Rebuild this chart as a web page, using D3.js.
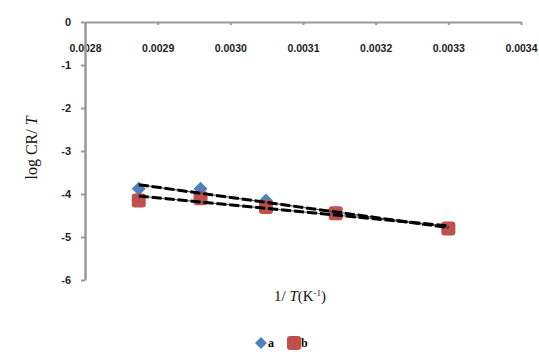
<!DOCTYPE html>
<html>
<head>
<meta charset="utf-8">
<script src="https://cdn.jsdelivr.net/npm/d3@7"></script>
<style>
  body { margin: 0; background: #fff; }
  svg { display: block; }
</style>
</head>
<body>
<div id="chart"></div>
<script>
// 1/T values (K^-1) and log CR/T for the two series
const invT = [0.002874, 0.002959, 0.003049, 0.003145, 0.0033];
const seriesA = [-3.88, -3.88, -4.15, -4.45, -4.80];
const seriesB = [-4.15, -4.10, -4.30, -4.45, -4.80];
const xTicks = [0.0028, 0.0029, 0.0030, 0.0031, 0.0032, 0.0033, 0.0034];
const yTicks = [0, -1, -2, -3, -4, -5, -6];

const width = 539, height = 352;

let svg = d3.select("#chart")
  .append("svg")
  .attr("width", width)
  .attr("height", height);

let x = d3.scaleLinear().domain([0.0028, 0.0034]).range([85, 521]);
let y = d3.scaleLinear().domain([0, -6]).range([22, 280]);

// least squares line through a series
function fit(xs, ys) {
  let mx = d3.mean(xs), my = d3.mean(ys);
  let num = d3.sum(xs, (v, i) => (v - mx) * (ys[i] - my));
  let den = d3.sum(xs, v => (v - mx) * (v - mx));
  let m = num / den;
  return v => my + m * (v - mx);
}

// square diamond, r = half diagonal
function diamondPath(r) {
  return "M0," + (-r) + "L" + r + ",0L0," + r + "L" + (-r) + ",0Z";
}

// x axis sits on the top (y = 0)
let xAxis = d3.axisBottom(x)
  .tickValues(xTicks)
  .tickFormat(d3.format(".4f"))
  .tickSize(3)
  .tickSizeOuter(0)
  .tickPadding(20);

let gx = svg.append("g")
  .attr("transform", "translate(0," + y(0) + ")")
  .call(xAxis);
gx.select(".domain").attr("stroke", "#999").attr("stroke-width", 2);
gx.selectAll(".tick line").attr("stroke", "#999").attr("stroke-width", 2);
gx.selectAll(".tick text")
  .attr("font-family", "Liberation Sans, Arial, sans-serif")
  .attr("font-weight", "bold")
  .attr("font-size", 10.5)
  .attr("fill", "#222");

let yAxis = d3.axisLeft(y)
  .tickValues(yTicks)
  .tickFormat(d3.format("d"))
  .tickSize(4)
  .tickSizeOuter(0)
  .tickPadding(10);

let gy = svg.append("g")
  .attr("transform", "translate(" + x(0.0028) + ",0)")
  .call(yAxis);
gy.select(".domain").attr("stroke", "#999").attr("stroke-width", 2.5);
gy.selectAll(".tick line").attr("stroke", "#999").attr("stroke-width", 2);
gy.selectAll(".tick text")
  .text(d => d === 0 ? "0" : "-" + Math.abs(d))
  .attr("font-family", "Liberation Sans, Arial, sans-serif")
  .attr("font-weight", "bold")
  .attr("font-size", 11)
  .attr("fill", "#222");

// markers
svg.append("g")
  .selectAll("path")
  .data(invT)
  .enter()
  .append("path")
  .attr("d", diamondPath(7))
  .attr("transform", (d, i) => "translate(" + x(d) + "," + y(seriesA[i]) + ")")
  .attr("fill", "#4F81BD");

svg.append("g")
  .selectAll("rect")
  .data(invT)
  .enter()
  .append("rect")
  .attr("x", d => x(d) - 7)
  .attr("y", (d, i) => y(seriesB[i]) - 7)
  .attr("width", 14)
  .attr("height", 14)
  .attr("rx", 3)
  .attr("fill", "#C0504D");

// trend lines
let line = d3.line().x(d => x(d[0])).y(d => y(d[1]));
let ends = d3.extent(invT);
[seriesA, seriesB].forEach(s => {
  let f = fit(invT, s);
  let pts = ends.map(v => [v, f(v)]);
  svg.append("path")
    .attr("d", line(pts))
    .attr("stroke", "#555")
    .attr("stroke-width", 1.2)
    .attr("fill", "none");
  svg.append("path")
    .attr("d", line(pts))
    .attr("stroke", "#000")
    .attr("stroke-width", 3)
    .attr("stroke-dasharray", "10,3")
    .attr("fill", "none");
});

// axis titles
svg.append("text")
  .attr("transform", "translate(37,148) rotate(-90)")
  .attr("text-anchor", "middle")
  .attr("font-family", "Liberation Serif, Times New Roman, serif")
  .attr("font-size", 16)
  .attr("fill", "#111")
  .html('log CR/ <tspan font-style="italic">T</tspan>');

svg.append("text")
  .attr("x", 300)
  .attr("y", 301)
  .attr("text-anchor", "middle")
  .attr("font-family", "Liberation Serif, Times New Roman, serif")
  .attr("font-size", 15)
  .attr("fill", "#111")
  .html('1/ <tspan font-style="italic">T</tspan>(K<tspan dy="-5" font-size="9">-1</tspan><tspan dy="5">)</tspan>');

// legend
let legend = svg.append("g").attr("transform", "translate(0,343)");
legend.append("path")
  .attr("d", diamondPath(6))
  .attr("transform", "translate(261,0)")
  .attr("fill", "#4F81BD");
legend.append("text")
  .attr("x", 268).attr("y", 4)
  .attr("font-family", "Liberation Serif, Times New Roman, serif")
  .attr("font-weight", "bold")
  .attr("font-size", 12)
  .text("a");
legend.append("rect")
  .attr("x", 287).attr("y", -7)
  .attr("width", 14).attr("height", 14)
  .attr("rx", 3)
  .attr("fill", "#C0504D");
legend.append("text")
  .attr("x", 301).attr("y", 4)
  .attr("font-family", "Liberation Serif, Times New Roman, serif")
  .attr("font-weight", "bold")
  .attr("font-size", 12)
  .text("b");
</script>
</body>
</html>
